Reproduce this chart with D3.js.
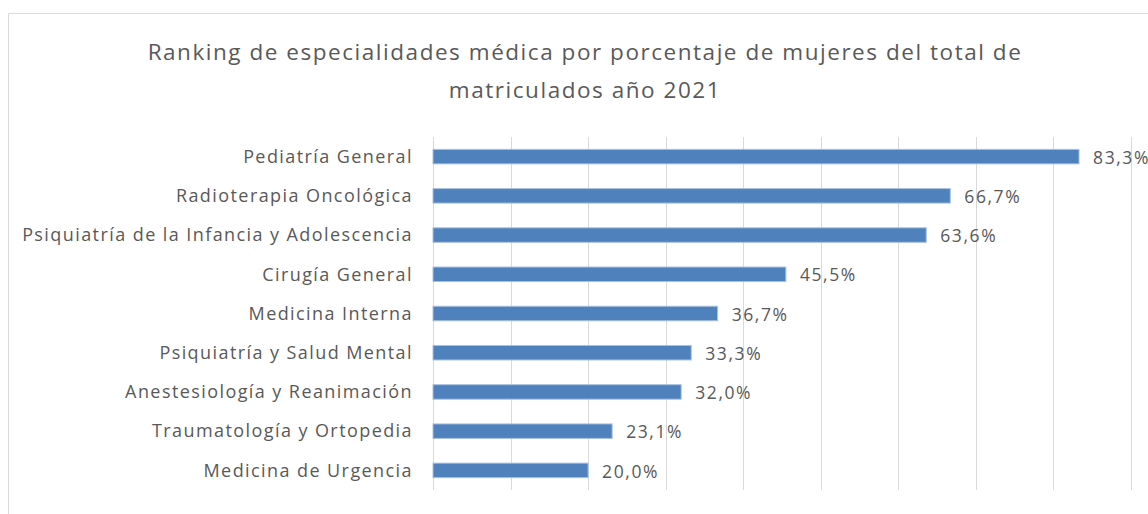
<!DOCTYPE html>
<html>
<head>
<meta charset="utf-8">
<script src="https://cdn.jsdelivr.net/npm/d3@7"></script>
<style>
  body { margin: 0; background: #fff; }
  text { font-family: "Open Sans", Lato, sans-serif; fill: #595959; }
</style>
</head>
<body>
<script>
// data
var categories = [
  "Pediatría General",
  "Radioterapia Oncológica",
  "Psiquiatría de la Infancia y Adolescencia",
  "Cirugía General",
  "Medicina Interna",
  "Psiquiatría y Salud Mental",
  "Anestesiología y Reanimación",
  "Traumatología y Ortopedia",
  "Medicina de Urgencia"
];
var values = [0.833, 0.667, 0.636, 0.455, 0.367, 0.333, 0.320, 0.231, 0.200];
var gridTicks = [0, 0.1, 0.2, 0.3, 0.4, 0.5, 0.6, 0.7, 0.8, 0.9];
var titleLines = [
  "Ranking de especialidades médica por porcentaje de mujeres del total de",
  "matriculados año 2021"
];

var width = 1148, height = 514;

var svg = d3.select("body").append("svg")
    .attr("width", width)
    .attr("height", height);

// the original font is wider than what we have, spread letters a bit
function spread(sel, refText, target) {
  var probe = svg.append("text").attr("font-size", sel.attr("font-size")).text(refText);
  var w = probe.node().getComputedTextLength();
  probe.remove();
  var ls = (target - w) / refText.length;
  sel.attr("letter-spacing", ls.toFixed(2) + "px");
}

// chart frame
svg.append("path")
    .attr("d", "M8.5," + height + "V13.5H" + width)
    .attr("fill", "none")
    .attr("stroke", "#d9d9d9");

var x = d3.scaleLinear().domain([0, 0.9]).range([433, 1131]);
var y = d3.scaleBand().domain(categories).range([137, 490]).paddingInner(0.63).paddingOuter(0.315);

// gridlines
svg.append("g").selectAll("line")
    .data(gridTicks)
    .join("line")
    .attr("x1", function(d) { return Math.round(x(d)) + 0.5; })
    .attr("x2", function(d) { return Math.round(x(d)) + 0.5; })
    .attr("y1", 137)
    .attr("y2", 490)
    .attr("stroke", "#d9d9d9");

// title
var title = svg.append("g").attr("font-size", "22.5px");
title.selectAll("text")
    .data(titleLines)
    .join("text")
    .attr("x", 585)
    .attr("y", function(d, i) { return 60 + i * 38; })
    .attr("text-anchor", "middle")
    .text(function(d) { return d; });
spread(title, titleLines[0], 875);

// bars
svg.append("g").selectAll("rect")
    .data(values)
    .join("rect")
    .attr("x", x(0))
    .attr("y", function(d, i) { return y(categories[i]); })
    .attr("width", function(d) { return x(d) - x(0); })
    .attr("height", y.bandwidth())
    .attr("fill", "#4f81bd")
    .attr("stroke", "#a9c1e0")
    .attr("stroke-width", 1);

// category labels
var cats = svg.append("g").attr("font-size", "18px");
cats.selectAll("text")
    .data(categories)
    .join("text")
    .attr("x", 413)
    .attr("y", function(d) { return y(d) + y.bandwidth() / 2; })
    .attr("dy", "0.35em")
    .attr("text-anchor", "end")
    .text(function(d) { return d; });
spread(cats, categories[2], 391);

// value labels
var fmt = d3.format(".1f");
var vals = svg.append("g").attr("font-size", "17.5px");
vals.selectAll("text")
    .data(values)
    .join("text")
    .attr("x", function(d) { return x(d) + 14; })
    .attr("y", function(d, i) { return y(categories[i]) + y.bandwidth() / 2 + 1; })
    .attr("dy", "0.35em")
    .text(function(d) { return fmt(d * 100).replace(".", ",") + "%"; });
spread(vals, "45,5%", 57);
</script>
</body>
</html>
